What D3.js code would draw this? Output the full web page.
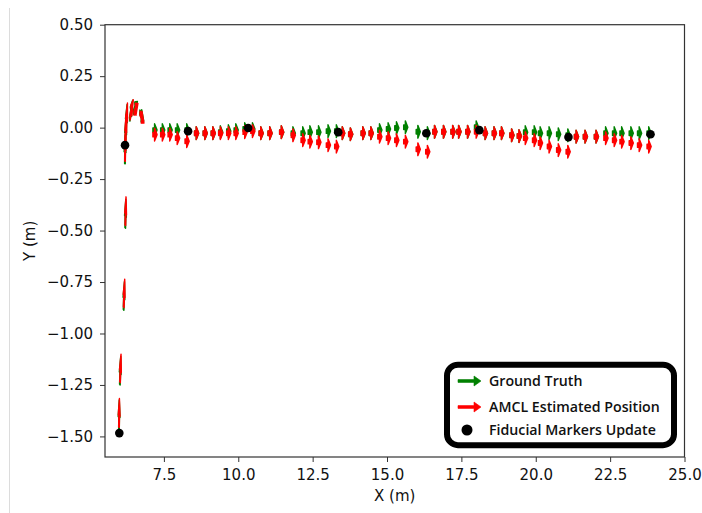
<!DOCTYPE html>
<html>
<head>
<meta charset="utf-8">
<script src="https://cdn.jsdelivr.net/npm/d3@7"></script>
<style>
  body { margin: 0; background: #fff; }
  svg { display: block; }
</style>
</head>
<body>
<svg id="chart" width="702" height="513"></svg>
<script>
// ---- Axis ticks ----
const xTicks = [7.5, 10, 12.5, 15, 17.5, 20, 22.5, 25];
const yTicks = [-1.5, -1.25, -1.0, -0.75, -0.5, -0.25, 0.0, 0.25, 0.5];

// ---- AMCL estimated poses (x [m], y [m], heading [deg]) ----
const amclX = [5.99, 6.025, 6.149, 6.203, 6.193, 6.21, 6.227, 6.361, 6.496, 6.698,
  7.13, 7.39, 7.64, 7.89, 8.21, 8.53, 8.82, 9.09, 9.34, 9.61, 9.86, 10.16, 10.42,
  10.70, 11.00, 11.39, 11.78, 12.11, 12.35, 12.64, 12.96, 13.24, 13.44, 13.71,
  14.13, 14.40, 14.69, 14.98, 15.26, 15.56, 15.98, 16.30, 16.54, 16.84, 17.15,
  17.35, 17.65, 17.94, 18.24, 18.54, 18.79, 19.13, 19.38, 19.59, 19.89, 20.09,
  20.39, 20.70, 21.02, 21.30, 21.60, 21.97, 22.29, 22.58, 22.83, 23.14, 23.42, 23.74];
const amclY = [-1.455, -1.236, -0.872, -0.474, -0.163, -0.075, -0.012, 0.046, 0.070, 0.070,
  -0.034, -0.034, -0.034, -0.051, -0.066, -0.027, -0.027, -0.027, -0.027, -0.027, -0.027, -0.022, -0.017,
  -0.027, -0.027, -0.022, -0.037, -0.061, -0.068, -0.071, -0.085, -0.092, -0.027, -0.032,
  -0.027, -0.027, -0.044, -0.051, -0.061, -0.068, -0.105, -0.117, -0.020, -0.020, -0.020,
  -0.020, -0.020, -0.020, -0.027, -0.027, -0.027, -0.037, -0.041, -0.051, -0.061, -0.075,
  -0.092, -0.109, -0.117, -0.044, -0.044, -0.044, -0.051, -0.061, -0.068, -0.075, -0.085, -0.092];
const amclYaw = [84, 76, 76, 80, 85, 82, 70, 40, 20, -20,
  0, 0, 0, 0, 0, 0, 0, 0, 0, 0, 0, 0, 0,
  0, 0, 0, 0, 0, 0, 0, 0, 0, 0, 0,
  0, 0, 0, 0, 0, 0, 0, 0, 0, 0, 0,
  0, 0, 0, 0, 0, 0, 0, 0, 0, 0, 0,
  0, 0, 0, 0, 0, 0, 0, 0, 0, 0, 0, 0];

// ---- Ground truth poses (x [m], y [m], heading [deg]) ----
const gtX = [5.99, 6.02, 6.145, 6.20, 6.19, 6.205, 6.22, 6.35, 6.48, 6.69,
  7.13, 7.39, 7.64, 7.89, 8.21, 8.53, 8.82, 9.09, 9.34, 9.61, 9.86, 10.16, 10.42,
  10.70, 11.00, 11.39, 11.78, 12.11, 12.35, 12.64, 12.96, 13.24, 13.44, 13.71,
  14.13, 14.40, 14.69, 14.98, 15.26, 15.56, 15.98, 16.30, 16.54, 16.84, 17.15,
  17.35, 17.65, 17.94, 18.24, 18.54, 18.79, 19.13, 19.38, 19.59, 19.89, 20.09,
  20.39, 20.70, 21.02, 21.30, 21.60, 21.97, 22.29, 22.58, 22.83, 23.14, 23.42, 23.74];
const gtY = [-1.462, -1.248, -0.885, -0.487, -0.175, -0.085, -0.020, 0.040, 0.075, 0.075,
  -0.012, -0.012, -0.012, -0.012, -0.012, -0.027, -0.027, -0.027, -0.022, -0.017, -0.012, -0.007, -0.007,
  -0.027, -0.027, -0.022, -0.027, -0.027, -0.022, -0.022, -0.017, -0.017, -0.027, -0.032,
  -0.027, -0.027, -0.012, -0.007, -0.002, 0.002, -0.020, -0.027, -0.020, -0.020, -0.020,
  -0.020, -0.020, 0.002, -0.027, -0.027, -0.027, -0.037, -0.041, -0.022, -0.022, -0.027,
  -0.027, -0.032, -0.037, -0.044, -0.044, -0.044, -0.027, -0.027, -0.027, -0.027, -0.027, -0.027];
const gtYaw = [86, 78, 78, 82, 86, 80, 72, 42, 22, -18,
  0, 0, 0, 0, 0, 0, 0, 0, 0, 0, 0, 0, 0,
  0, 0, 0, 0, 0, 0, 0, 0, 0, 0, 0,
  0, 0, 0, 0, 0, 0, 0, 0, 0, 0, 0,
  0, 0, 0, 0, 0, 0, 0, 0, 0, 0, 0,
  0, 0, 0, 0, 0, 0, 0, 0, 0, 0, 0, 0];

// ---- Fiducial marker updates ----
const fiducialX = [6.001, 6.193, 8.313, 10.332, 13.360, 16.321, 18.104, 21.099, 23.858];
const fiducialY = [-1.484, -0.085, -0.017, -0.002, -0.022, -0.027, -0.012, -0.046, -0.032];

const legendLabels = ["Ground Truth", "AMCL Estimated Position", "Fiducial Markers Update"];

// ---- Layout ----
const svg = d3.select("#chart");
const plot = { left: 105, right: 684.5, top: 24.7, bottom: 457 };
const x = d3.scaleLinear().domain([5.52, 25]).range([plot.left, plot.right]);
const y = d3.scaleLinear().domain([-1.6, 0.5]).range([plot.bottom, plot.top]);

const GREEN = "#008000", RED = "#ff0000";
const tickFont = "'DejaVu Sans', sans-serif";
const tickSize = "15px";

// thin page edge line on the left
svg.append("line")
  .attr("x1", 9.5).attr("x2", 9.5).attr("y1", 8).attr("y2", 513)
  .attr("stroke", "#dcdcdc").attr("stroke-width", 1);

// Arrow geometry in data units (shaft + head, like a FancyArrow)
const SHAFT = 0.056, HEAD_LEN = 0.084, HEAD_W = 0.062, SHAFT_W = 0.022;
function arrowPoints(x0, y0, deg) {
  const t = deg * Math.PI / 180, c = Math.cos(t), s = Math.sin(t);
  const nx = -s, ny = c;
  const P = (a, b) => [x(x0 + a * c + b * nx), y(y0 + a * s + b * ny)];
  return [P(0, SHAFT_W / 2), P(SHAFT, SHAFT_W / 2), P(SHAFT, HEAD_W / 2), P(SHAFT + HEAD_LEN, 0),
          P(SHAFT, -HEAD_W / 2), P(SHAFT, -SHAFT_W / 2), P(0, -SHAFT_W / 2)];
}

const plotG = svg.append("g");

const gtPoses = gtX.map((v, i) => ({ x: v, y: gtY[i], yaw: gtYaw[i] }));
const amclPoses = amclX.map((v, i) => ({ x: v, y: amclY[i], yaw: amclYaw[i] }));

plotG.append("g").selectAll("polygon").data(gtPoses).join("polygon")
  .attr("points", d => arrowPoints(d.x, d.y, d.yaw).map(p => p.join(",")).join(" "))
  .attr("fill", GREEN).attr("stroke", GREEN).attr("stroke-width", 1.4).attr("stroke-linejoin", "round");

plotG.append("g").selectAll("polygon").data(amclPoses).join("polygon")
  .attr("points", d => arrowPoints(d.x, d.y, d.yaw).map(p => p.join(",")).join(" "))
  .attr("fill", RED).attr("stroke", RED).attr("stroke-width", 1.4).attr("stroke-linejoin", "round");

plotG.append("g").selectAll("circle").data(fiducialX.map((v, i) => [v, fiducialY[i]])).join("circle")
  .attr("cx", d => x(d[0])).attr("cy", d => y(d[1])).attr("r", 4.3).attr("fill", "#000");

// ---- Axes ----
const xAxis = svg.append("g").attr("transform", `translate(0,${plot.bottom})`)
  .call(d3.axisBottom(x).tickValues(xTicks).tickFormat(d3.format(".1f")).tickSize(5).tickPadding(7));
const yAxis = svg.append("g").attr("transform", `translate(${plot.left},0)`)
  .call(d3.axisLeft(y).tickValues(yTicks).tickFormat(d3.format(".2f")).tickSize(5).tickPadding(7));
[xAxis, yAxis].forEach(g => {
  g.select(".domain").remove();
  g.selectAll(".tick line").attr("stroke", "#333").attr("stroke-width", 1);
  g.selectAll(".tick text").attr("fill", "#111").style("font-family", tickFont).style("font-size", tickSize);
});

// frame
svg.append("rect")
  .attr("x", plot.left).attr("y", plot.top)
  .attr("width", plot.right - plot.left).attr("height", plot.bottom - plot.top)
  .attr("fill", "none").attr("stroke", "#333").attr("stroke-width", 1.2);

// axis titles
svg.append("text").attr("x", (plot.left + plot.right) / 2).attr("y", 501)
  .attr("text-anchor", "middle").style("font-family", tickFont).style("font-size", tickSize)
  .attr("fill", "#111").text("X (m)");
svg.append("text").attr("transform", `translate(35,${(plot.top + plot.bottom) / 2}) rotate(-90)`)
  .attr("text-anchor", "middle").style("font-family", tickFont).style("font-size", tickSize)
  .attr("fill", "#111").text("Y (m)");

// ---- Legend ----
const leg = svg.append("g");
leg.append("rect").attr("x", 447).attr("y", 364.7).attr("width", 227).attr("height", 80.5)
  .attr("rx", 11).attr("fill", "#fff").attr("stroke", "#000").attr("stroke-width", 6);

function legendArrow(cy, color) {
  const x0 = 458, x1 = 481, hl = 7, hw = 5, sw = 1.4;
  const pts = [[x0, cy - sw], [x1 - hl, cy - sw], [x1 - hl, cy - hw], [x1, cy],
               [x1 - hl, cy + hw], [x1 - hl, cy + sw], [x0, cy + sw]];
  leg.append("polygon").attr("points", pts.map(p => p.join(",")).join(" "))
    .attr("fill", color).attr("stroke", color).attr("stroke-width", 0.6);
}
legendArrow(381, GREEN);
legendArrow(407, RED);
leg.append("circle").attr("cx", 467).attr("cy", 430).attr("r", 5.5).attr("fill", "#000");

const rowY = [381, 407, 430];
leg.selectAll("text.lab").data(legendLabels).join("text").attr("class", "lab")
  .attr("x", 489).attr("y", (d, i) => rowY[i]).attr("dy", "0.35em")
  .style("font-family", "'Open Sans', sans-serif").style("font-size", "14.2px").style("font-weight", 600)
  .attr("fill", "#111").text(d => d);
</script>
</body>
</html>
